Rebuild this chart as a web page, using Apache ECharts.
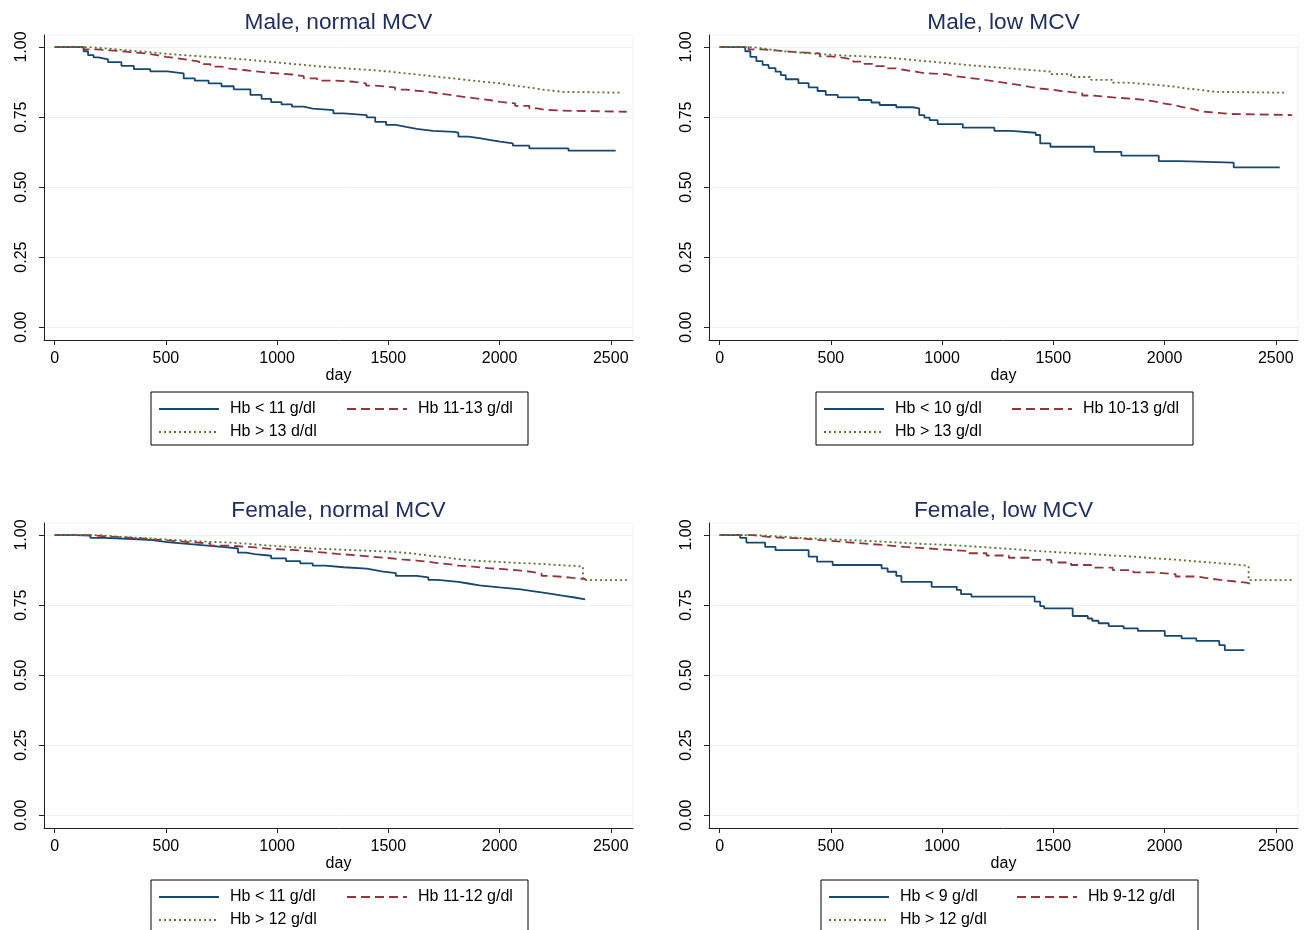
<!DOCTYPE html>
<html>
<head>
<meta charset="utf-8">
<script src="https://cdn.jsdelivr.net/npm/echarts@6/dist/echarts.min.js"></script>
<style>
html,body{margin:0;padding:0;background:#fff;}
#chart{width:1307px;height:930px;}
</style>
</head>
<body>
<div id="chart"></div>
<script>
// ---------- tick labels ----------
const xTicks = [0, 500, 1000, 1500, 2000, 2500];
const yTicks = [0, 0.25, 0.5, 0.75, 1];

// ---------- panel titles ----------
const panelTitles = ['Male, normal MCV', 'Male, low MCV', 'Female, normal MCV', 'Female, low MCV'];

// ---------- legend names ----------
const namesMaleNormal = ['Hb < 11 g/dl', 'Hb 11-13 g/dl', 'Hb > 13 d/dl'];
const namesMaleLow = ['Hb < 10 g/dl', 'Hb 10-13 g/dl', 'Hb > 13 g/dl'];
const namesFemaleNormal = ['Hb < 11 g/dl', 'Hb 11-12 g/dl', 'Hb > 12 g/dl'];
const namesFemaleLow = ['Hb < 9 g/dl', 'Hb 9-12 g/dl', 'Hb > 12 g/dl'];

// ---------- Kaplan-Meier curves [day, survival] ----------
const maleNormalLow = [[0,1],[112,1],[130,0.985],[150,0.971],[175,0.963],[197,0.956],[240,0.946],[300,0.933],[356,0.921],[430,0.913],[506,0.906],[580,0.888],[630,0.880],[692,0.870],[750,0.860],[805,0.849],[880,0.829],[930,0.815],[973,0.803],[1020,0.795],[1067,0.787],[1120,0.780],[1160,0.775],[1253,0.763],[1300,0.757],[1403,0.749],[1441,0.733],[1490,0.722],[1534,0.715],[1580,0.708],[1628,0.701],[1700,0.697],[1797,0.694],[1815,0.680],[1860,0.675],[1909,0.668],[1960,0.662],[2003,0.656],[2060,0.648],[2134,0.638],[2310,0.630],[2522,0.630]];
const maleNormalMid = [[0,1],[130,0.992],[190,0.988],[250,0.983],[330,0.977],[413,0.971],[460,0.965],[500,0.960],[550,0.954],[600,0.948],[650,0.939],[700,0.930],[750,0.923],[787,0.918],[850,0.912],[917,0.906],[1000,0.902],[1067,0.896],[1120,0.888],[1180,0.880],[1260,0.876],[1347,0.870],[1400,0.862],[1441,0.856],[1530,0.848],[1580,0.844],[1628,0.840],[1680,0.835],[1720,0.830],[1770,0.825],[1815,0.820],[1860,0.815],[1910,0.810],[1960,0.804],[2003,0.799],[2070,0.790],[2134,0.781],[2170,0.776],[2200,0.773],[2283,0.769],[2572,0.769]];
const maleNormalHigh = [[0,1],[150,0.995],[230,0.989],[319,0.983],[410,0.976],[500,0.970],[600,0.965],[692,0.960],[780,0.954],[880,0.947],[970,0.940],[1067,0.933],[1160,0.927],[1250,0.922],[1340,0.917],[1441,0.912],[1510,0.906],[1580,0.900],[1650,0.894],[1721,0.888],[1790,0.882],[1860,0.876],[1930,0.870],[2003,0.864],[2050,0.859],[2100,0.854],[2150,0.848],[2190,0.844],[2240,0.840],[2283,0.837],[2545,0.837]];

const maleLowLow = [[0,1],[92,1],[115,0.985],[138,0.965],[165,0.950],[193,0.936],[220,0.925],[251,0.912],[275,0.900],[297,0.885],[354,0.871],[400,0.856],[440,0.843],[477,0.829],[531,0.820],[625,0.811],[682,0.802],[719,0.793],[794,0.785],[868,0.781],[897,0.757],[920,0.748],[944,0.739],[980,0.725],[1093,0.712],[1235,0.701],[1309,0.694],[1421,0.686],[1441,0.656],[1487,0.644],[1684,0.626],[1806,0.612],[1974,0.593],[2068,0.587],[2311,0.570],[2518,0.570]];
const maleLowMid = [[0,1],[130,0.992],[190,0.988],[250,0.985],[300,0.981],[363,0.977],[450,0.967],[500,0.962],[551,0.956],[600,0.948],[650,0.940],[700,0.932],[750,0.924],[790,0.918],[832,0.912],[880,0.907],[920,0.903],[1019,0.896],[1060,0.891],[1110,0.886],[1160,0.881],[1205,0.876],[1250,0.870],[1300,0.864],[1350,0.858],[1394,0.852],[1440,0.848],[1490,0.843],[1535,0.839],[1581,0.835],[1630,0.827],[1675,0.820],[1770,0.815],[1862,0.811],[1910,0.805],[1960,0.798],[2000,0.792],[2050,0.785],[2085,0.780],[2120,0.774],[2150,0.769],[2181,0.765],[2240,0.761],[2293,0.757],[2574,0.757]];
const maleLowHigh = [[0,1],[150,0.993],[210,0.986],[270,0.980],[360,0.975],[450,0.970],[550,0.967],[643,0.963],[740,0.957],[830,0.950],[920,0.943],[1019,0.936],[1110,0.930],[1200,0.924],[1300,0.918],[1394,0.912],[1490,0.903],[1580,0.893],[1670,0.883],[1767,0.873],[1830,0.869],[1900,0.864],[1975,0.858],[2050,0.852],[2100,0.848],[2150,0.844],[2190,0.840],[2237,0.837],[2543,0.837]];

const femaleNormalLow = [[0,1],[94,0.998],[160,0.990],[225,0.985],[375,0.982],[440,0.975],[506,0.970],[570,0.966],[636,0.961],[700,0.957],[767,0.952],[824,0.937],[860,0.932],[900,0.926],[973,0.917],[1040,0.907],[1104,0.899],[1160,0.891],[1216,0.885],[1300,0.880],[1403,0.875],[1440,0.870],[1470,0.864],[1534,0.854],[1628,0.849],[1680,0.840],[1721,0.833],[1815,0.827],[1860,0.820],[1909,0.813],[2000,0.806],[2096,0.801],[2140,0.795],[2189,0.789],[2240,0.784],[2282,0.777],[2338,0.770],[2385,0.770]];
const femaleNormalMid = [[0,1],[150,0.995],[230,0.992],[319,0.988],[390,0.984],[450,0.980],[520,0.975],[599,0.970],[700,0.962],[786,0.956],[900,0.950],[980,0.947],[1067,0.943],[1130,0.938],[1200,0.933],[1270,0.928],[1347,0.923],[1420,0.918],[1500,0.913],[1560,0.909],[1628,0.905],[1680,0.900],[1720,0.896],[1770,0.891],[1815,0.887],[1880,0.882],[1950,0.878],[2020,0.873],[2096,0.869],[2140,0.862],[2189,0.854],[2230,0.851],[2280,0.847],[2330,0.843],[2385,0.839]];
const femaleNormalHigh = [[0,1],[200,0.993],[300,0.989],[412,0.985],[480,0.982],[550,0.979],[620,0.976],[692,0.973],[790,0.968],[880,0.962],[970,0.957],[1067,0.952],[1160,0.949],[1250,0.946],[1340,0.943],[1441,0.940],[1520,0.935],[1600,0.930],[1650,0.925],[1700,0.920],[1760,0.914],[1815,0.908],[1900,0.904],[2000,0.900],[2090,0.897],[2189,0.893],[2260,0.890],[2338,0.887],[2375,0.839],[2572,0.839]];

const femaleLowLow = [[0,1],[92,0.990],[120,0.973],[204,0.958],[251,0.946],[400,0.923],[438,0.905],[508,0.893],[728,0.881],[755,0.869],[794,0.854],[817,0.833],[953,0.815],[1066,0.804],[1085,0.789],[1132,0.780],[1416,0.762],[1441,0.746],[1459,0.738],[1587,0.711],[1655,0.702],[1675,0.694],[1703,0.685],[1749,0.675],[1816,0.667],[1880,0.658],[2001,0.640],[2077,0.631],[2143,0.622],[2246,0.607],[2271,0.589],[2359,0.589]];
const femaleLowMid = [[0,1],[150,0.994],[210,0.991],[270,0.988],[360,0.982],[450,0.976],[550,0.970],[643,0.964],[740,0.958],[830,0.953],[920,0.948],[1019,0.943],[1110,0.935],[1200,0.927],[1300,0.919],[1394,0.911],[1490,0.902],[1580,0.893],[1670,0.884],[1767,0.875],[1860,0.867],[1950,0.860],[2050,0.852],[2143,0.845],[2200,0.840],[2250,0.835],[2310,0.830],[2368,0.826],[2387,0.824]];
const femaleLowHigh = [[0,1],[150,0.995],[270,0.990],[360,0.987],[450,0.983],[550,0.980],[643,0.976],[740,0.972],[830,0.968],[920,0.965],[1019,0.961],[1110,0.956],[1200,0.951],[1300,0.945],[1394,0.940],[1490,0.936],[1580,0.932],[1670,0.927],[1767,0.923],[1860,0.917],[1950,0.912],[2050,0.906],[2143,0.901],[2220,0.896],[2300,0.892],[2350,0.889],[2378,0.839],[2574,0.839]];

// ---------- styling / layout ----------
const FONT = '"Liberation Sans", Arial, Helvetica, sans-serif';
const COLORS = ['#1a476f', '#90353b', '#55752f'];
const LINE_TYPES = ['solid', [9, 5], [2, 3]];
const panels = [
  { left: 44,  top: 35,  names: namesMaleNormal,   data: [maleNormalLow, maleNormalMid, maleNormalHigh],       legendLeft: 151, legendTop: 392 },
  { left: 709, top: 35,  names: namesMaleLow,      data: [maleLowLow, maleLowMid, maleLowHigh],                legendLeft: 816, legendTop: 392 },
  { left: 44,  top: 523, names: namesFemaleNormal, data: [femaleNormalLow, femaleNormalMid, femaleNormalHigh], legendLeft: 151, legendTop: 880 },
  { left: 709, top: 523, names: namesFemaleLow,    data: [femaleLowLow, femaleLowMid, femaleLowHigh],          legendLeft: 821, legendTop: 880 }
];
const GW = 589, GH = 305;

const option = {
  backgroundColor: '#ffffff',
  animation: false,
  title: [], grid: [], xAxis: [], yAxis: [], legend: [], series: []
};

panels.forEach((p, i) => {
  option.title.push({
    text: panelTitles[i],
    left: p.left + GW / 2,
    top: p.top - 24,
    textAlign: 'center',
    padding: 0,
    textStyle: { fontFamily: FONT, fontSize: 22.7, fontWeight: 'normal', color: '#1f3060' }
  });
  option.grid.push({
    left: p.left, top: p.top, width: GW, height: GH,
    show: true, borderColor: '#eef3f5', borderWidth: 1, backgroundColor: 'transparent',
    containLabel: false
  });
  option.xAxis.push({
    type: 'value', gridIndex: i, min: -48, max: 2600,
    name: 'day', nameLocation: 'middle', nameGap: 27,
    nameTextStyle: { fontFamily: FONT, fontSize: 16, color: '#000' },
    axisLine: { show: true, onZero: false, lineStyle: { color: '#222', width: 1 } },
    axisTick: { show: true, length: 5, customValues: xTicks, lineStyle: { color: '#222' } },
    axisLabel: { customValues: xTicks, margin: 11, fontFamily: FONT, fontSize: 16, color: '#000',
      formatter: v => String(v) },
    splitLine: { show: false }
  });
  option.yAxis.push({
    type: 'value', gridIndex: i, min: -0.046, max: 1.043,
    axisLine: { show: true, onZero: false, lineStyle: { color: '#222', width: 1 } },
    axisTick: { show: true, length: 5, customValues: yTicks, lineStyle: { color: '#222' } },
    axisLabel: { customValues: yTicks, rotate: 90, margin: 14, fontFamily: FONT, fontSize: 16, color: '#000',
      formatter: v => v.toFixed(2) },
    splitLine: { show: true, lineStyle: { color: '#eaf2f3', width: 1 } }
  });
  option.legend.push({
    left: p.legendLeft, top: p.legendTop, width: 374,
    orient: 'horizontal',
    data: p.names,
    itemWidth: 60, itemHeight: 11, itemGap: 7,
    padding: [9, 1, 5, 7],
    borderColor: '#000', borderWidth: 1, backgroundColor: '#fff',
    selectedMode: false,
    itemStyle: { opacity: 0 },
    formatter: '{a|{name}}',
    textStyle: {
      fontFamily: FONT, fontSize: 16, color: '#000', lineHeight: 16,
      rich: { a: { width: 109, padding: [0, 0, 0, 6], fontFamily: FONT, fontSize: 16, lineHeight: 16, color: '#000' } }
    }
  });
  p.data.forEach((d, k) => {
    option.series.push({
      type: 'line', name: p.names[k], xAxisIndex: i, yAxisIndex: i,
      data: d, step: 'end', symbol: 'none', showSymbol: false, silent: true,
      color: COLORS[k],
      itemStyle: { color: COLORS[k] },
      lineStyle: { color: COLORS[k], width: 1.8, type: LINE_TYPES[k] }
    });
  });
});

const chart = echarts.init(document.getElementById('chart'), null, { renderer: 'canvas' });
chart.setOption(option);
</script>
</body>
</html>
